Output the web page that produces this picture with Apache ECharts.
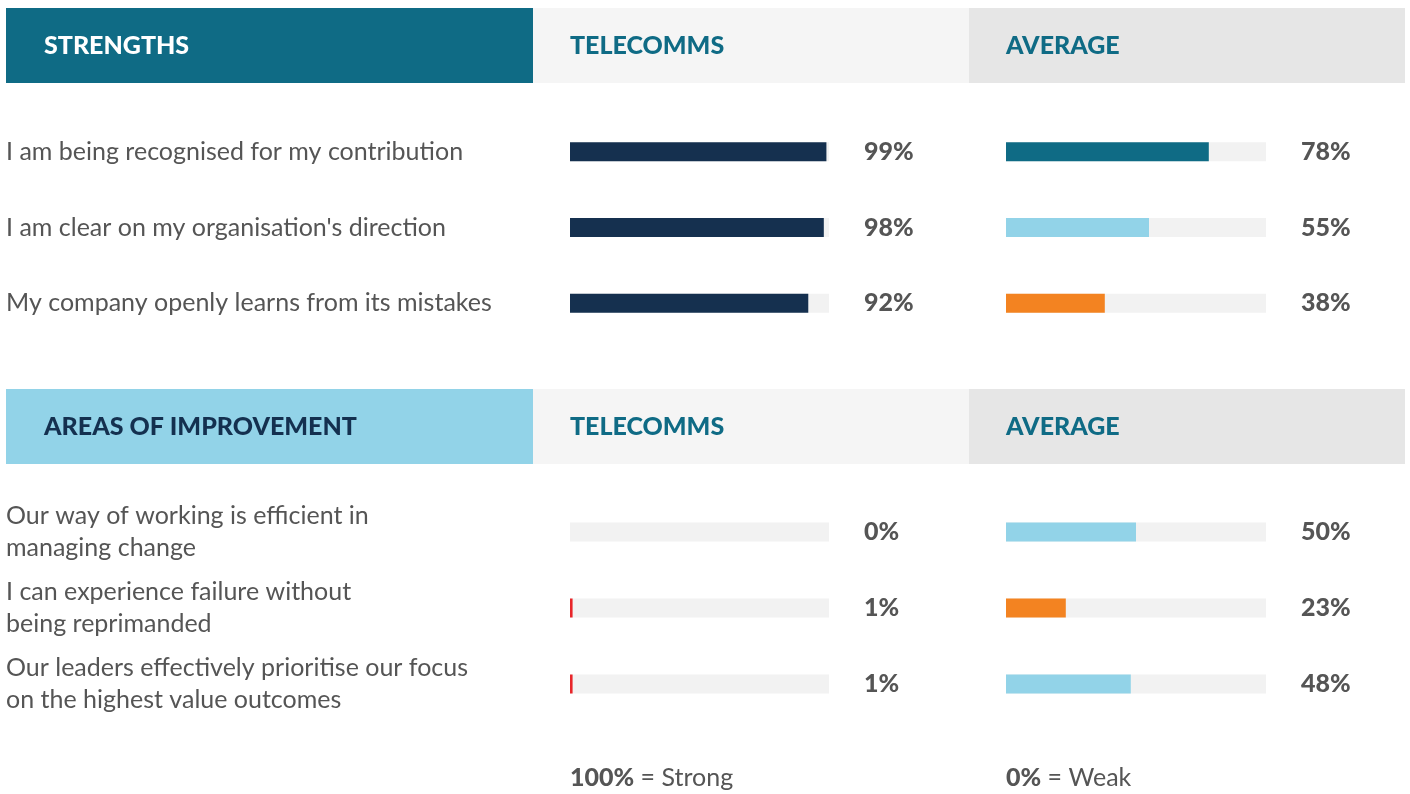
<!DOCTYPE html>
<html>
<head>
<meta charset="utf-8" />
<script src="https://cdn.jsdelivr.net/npm/echarts@6/dist/echarts.min.js"></script>
<style>
  html, body { margin: 0; padding: 0; background: #fff; }
  #chart { width: 1410px; height: 794px; }
</style>
</head>
<body>
<div id="chart"></div>
<script>
const strengthQuestions = [
  'I am being recognised for my contribution',
  "I am clear on my organisation's direction",
  'My company openly learns from its mistakes'
];
const strengthTelecomms = [99, 98, 92];
const strengthAverage = [78, 55, 38];

const improvementQuestions = [
  'Our way of working is efficient in\nmanaging change',
  'I can experience failure without\nbeing reprimanded',
  'Our leaders effectively prioritise our focus\non the highest value outcomes'
];
const improvementTelecomms = [0, 1, 1];
const improvementAverage = [50, 23, 48];

const FONT = 'Lato, "Open Sans", sans-serif';
const TEAL = '#0f6b85';
const NAVY = '#15304f';
const LIGHT = '#92d3e8';
const ORANGE = '#f38321';
const RED = '#e8262a';
const GREY_TEXT = '#555555';

// colour of a bar depends on which column and how high it is
const telecommsColor = v => (v >= 50 ? NAVY : RED);
const averageColor = v => (v >= 70 ? TEAL : v >= 40 ? LIGHT : ORANGE);

const grids = [
  { left: 570, width: 259, top: 114, height: 227 },
  { left: 1006, width: 260, top: 114, height: 227 },
  { left: 570, width: 259, top: 494, height: 228 },
  { left: 1006, width: 260, top: 494, height: 228 }
];

const panels = [
  { questions: strengthQuestions, values: strengthTelecomms, color: telecommsColor, showQuestions: true },
  { questions: strengthQuestions, values: strengthAverage, color: averageColor, showQuestions: false },
  { questions: improvementQuestions, values: improvementTelecomms, color: telecommsColor, showQuestions: true },
  { questions: improvementQuestions, values: improvementAverage, color: averageColor, showQuestions: false }
];

const xAxis = grids.map((g, i) => ({
  type: 'value', gridIndex: i, min: 0, max: 100, show: false
}));

const yAxis = [];
panels.forEach((p, i) => {
  // questions on the left
  yAxis.push({
    type: 'category', gridIndex: i, inverse: true, position: 'left',
    data: p.questions,
    axisLine: { show: false }, axisTick: { show: false }, splitLine: { show: false },
    axisLabel: {
      show: p.showQuestions, align: 'left', margin: 564,
      fontFamily: FONT, fontSize: 25, color: GREY_TEXT, lineHeight: 32
    }
  });
  // percentages on the right
  yAxis.push({
    type: 'category', gridIndex: i, inverse: true, position: 'right',
    data: p.values.map(v => v + '%'),
    axisLine: { show: false }, axisTick: { show: false }, splitLine: { show: false },
    axisLabel: {
      align: 'left', margin: 35, padding: [4, 0, 0, 0],
      fontFamily: FONT, fontSize: 25, fontWeight: 900, color: GREY_TEXT
    }
  });
});

const series = panels.map((p, i) => ({
  type: 'bar',
  xAxisIndex: i,
  yAxisIndex: i * 2,
  barWidth: 19,
  showBackground: true,
  backgroundStyle: { color: '#f2f2f2' },
  data: p.values.map(v => ({ value: v, itemStyle: { color: p.color(v) } })),
  silent: true
}));

const headerText = (x, y, text, color) => ({
  type: 'text', left: x, top: y,
  style: { text: text, fill: color, font: '900 25px ' + FONT }
});

const footerText = (x, bold, rest) => ({
  type: 'text', left: x, top: 765,
  style: {
    text: '{b|' + bold + '}' + rest,
    rich: { b: { font: '900 25px ' + FONT, fill: GREY_TEXT } },
    font: '25px ' + FONT, fill: GREY_TEXT
  }
});

const graphic = [
  { type: 'rect', shape: { x: 6, y: 8, width: 527, height: 75 }, style: { fill: TEAL } },
  { type: 'rect', shape: { x: 533, y: 8, width: 436, height: 75 }, style: { fill: '#f5f5f5' } },
  { type: 'rect', shape: { x: 969, y: 8, width: 436, height: 75 }, style: { fill: '#e6e6e6' } },
  { type: 'rect', shape: { x: 6, y: 389, width: 527, height: 75 }, style: { fill: LIGHT } },
  { type: 'rect', shape: { x: 533, y: 389, width: 436, height: 75 }, style: { fill: '#f5f5f5' } },
  { type: 'rect', shape: { x: 969, y: 389, width: 436, height: 75 }, style: { fill: '#e6e6e6' } },
  headerText(44, 33, 'STRENGTHS', '#ffffff'),
  headerText(570, 33, 'TELECOMMS', TEAL),
  headerText(1006, 33, 'AVERAGE', TEAL),
  headerText(44, 414, 'AREAS OF IMPROVEMENT', '#14304f'),
  headerText(570, 414, 'TELECOMMS', TEAL),
  headerText(1006, 414, 'AVERAGE', TEAL),
  footerText(570, '100%', ' = Strong'),
  footerText(1006, '0%', ' = Weak')
];

const chart = echarts.init(document.getElementById('chart'));
chart.setOption({
  backgroundColor: '#ffffff',
  animation: false,
  grid: grids,
  xAxis: xAxis,
  yAxis: yAxis,
  series: series,
  graphic: graphic
});
</script>
</body>
</html>
